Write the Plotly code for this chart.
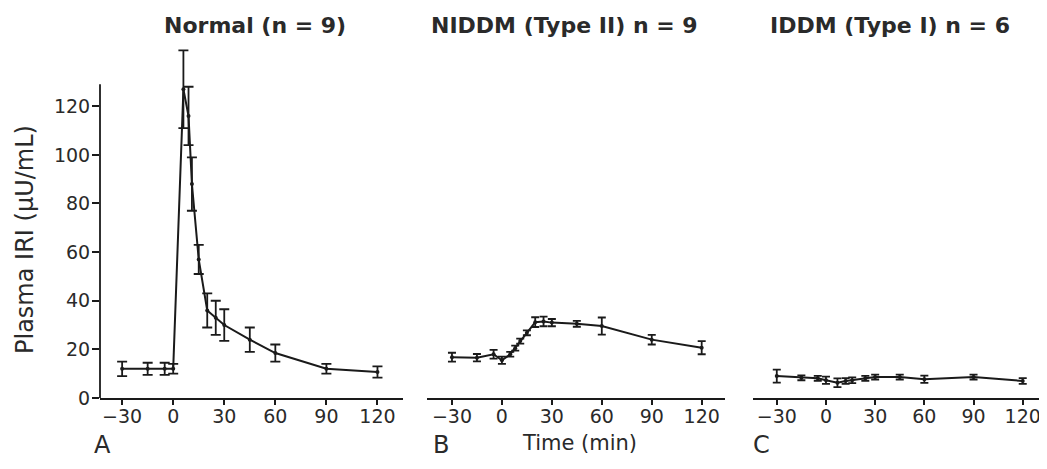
import plotly.graph_objects as go

# ---- data ----
normal_t = [-30, -15, -5, 0, 6, 9, 11, 15, 20, 25, 30, 45, 60, 90, 120]
normal_y = [12, 12, 12, 12, 127, 116, 88, 57, 36, 33, 30, 24, 18.5, 12, 10.7]
normal_e = [3, 2.5, 2.5, 2, 16, 12, 11, 6, 7, 7, 6.5, 5, 3.5, 2, 2.3]

niddm_t = [-30, -15, -5, 0, 5, 8, 11, 15, 20, 25, 30, 45, 60, 90, 120]
niddm_y = [16.8, 16.6, 18, 15.5, 18, 20.5, 23.4, 26.8, 31.2, 31.5, 31, 30.5, 29.6, 24, 20.7]
niddm_e = [1.8, 1.5, 1.8, 1.5, 1, 1, 1, 1, 2, 2, 1.5, 1.2, 3.5, 2, 2.7]

iddm_t = [-30, -15, -5, 0, 7, 12, 16, 24, 30, 45, 60, 90, 120]
iddm_y = [9, 8.3, 8.1, 7.3, 6.3, 7, 7.3, 8.1, 8.6, 8.6, 7.7, 8.6, 7]
iddm_e = [2.7, 1, 1, 1.5, 1.8, 1.2, 1.2, 1, 1, 1, 1.5, 1, 1.2]

x_ticks = [-30, 0, 30, 60, 90, 120]
y_ticks = [0, 20, 40, 60, 80, 100, 120]
y_axis_top = 129
titles = ["Normal (n = 9)", "NIDDM (Type II) n = 9", "IDDM (Type I) n = 6"]
panel_letters = ["A", "B", "C"]

# page is rendered with an 8px body margin -> compensate
OFF = 8
W, H = 1047 - OFF, 469 - OFF
MB = 71
MT = 35
PH = H - MT - MB

def px(x):
    return (x - OFF) / W

def py(y):
    return (H - MB - (y - OFF)) / PH

INK = "#1a1a1a"
TXT = "#2a2a2a"
FONT = "DejaVu Sans"

fig = go.Figure()
series = [(normal_t, normal_y, normal_e), (niddm_t, niddm_y, niddm_e), (iddm_t, iddm_y, iddm_e)]
cap_w = [5, 4, 4]
for i, (t, y, e) in enumerate(series):
    sfx = "" if i == 0 else str(i + 1)
    fig.add_trace(go.Scatter(
        x=t, y=y, mode="lines+markers",
        line=dict(color=INK, width=2),
        marker=dict(color=INK, size=4),
        error_y=dict(type="data", array=e, color=INK, thickness=1.8, width=cap_w[i]),
        cliponaxis=False, showlegend=False,
        xaxis="x" + sfx, yaxis="y" + sfx,
    ))

domains = [(100, 403), (427, 725), (753, 1047)]
ranges = [(-43, 135), (-45, 134), (-44.5, 134.8)]
common_x = dict(
    tickmode="array", tickvals=x_ticks, ticks="outside", ticklen=5, tickwidth=1.5,
    tickcolor=INK, showline=True, linecolor=INK, linewidth=1.8, showgrid=False,
    zeroline=False, tickfont=dict(family=FONT, size=19, color=TXT), automargin=False,
    ticklabelstandoff=-5,
)
layout = dict(
    width=W, height=H, margin=dict(l=0, r=0, t=MT, b=MB),
    paper_bgcolor="white", plot_bgcolor="white", showlegend=False,
)
for i in range(3):
    sfx = "" if i == 0 else str(i + 1)
    xa = dict(common_x)
    xa.update(domain=[px(domains[i][0]), min(1.0, px(domains[i][1]))], range=list(ranges[i]),
              anchor="y" + sfx)
    layout["xaxis" + sfx] = xa
    ya = dict(range=[0, 146], anchor="x" + sfx, showgrid=False, zeroline=False,
              automargin=False)
    if i == 0:
        ya.update(tickmode="array", tickvals=y_ticks, ticks="outside", ticklen=7,
                  tickwidth=1.5, tickcolor=INK, showline=False, ticklabelstandoff=-2,
                  tickfont=dict(family=FONT, size=19, color=TXT))
    else:
        ya.update(visible=False)
    layout["yaxis" + sfx] = ya

fig.update_layout(**layout)

# y-axis line of panel A (stops a little above 120, as in the reference)
fig.add_shape(type="line", xref="x domain", yref="y", x0=0, x1=0, y0=0, y1=y_axis_top,
              line=dict(color=INK, width=1.8))

title_cx = [255, 564, 890]
letter_cx = [102, 441, 761]
for i in range(3):
    fig.add_annotation(x=px(title_cx[i]), y=py(25), xref="paper", yref="paper",
                       text="<b>" + titles[i] + "</b>", showarrow=False,
                       font=dict(family=FONT, size=22, color=TXT),
                       xanchor="center", yanchor="middle")
    fig.add_annotation(x=px(letter_cx[i]), y=py(445), xref="paper", yref="paper",
                       text=panel_letters[i], showarrow=False,
                       font=dict(family=FONT, size=24, color=TXT),
                       xanchor="center", yanchor="middle")

fig.add_annotation(x=px(579), y=py(443), xref="paper", yref="paper",
                   text="Time (min)", showarrow=False,
                   font=dict(family=FONT, size=21, color=TXT),
                   xanchor="center", yanchor="middle")
fig.add_annotation(x=px(25), y=py(240), xref="paper", yref="paper",
                   text="Plasma IRI (μU/mL)", showarrow=False, textangle=-90,
                   font=dict(family=FONT, size=24, color=TXT),
                   xanchor="center", yanchor="middle")

fig.write_html("out.html")
